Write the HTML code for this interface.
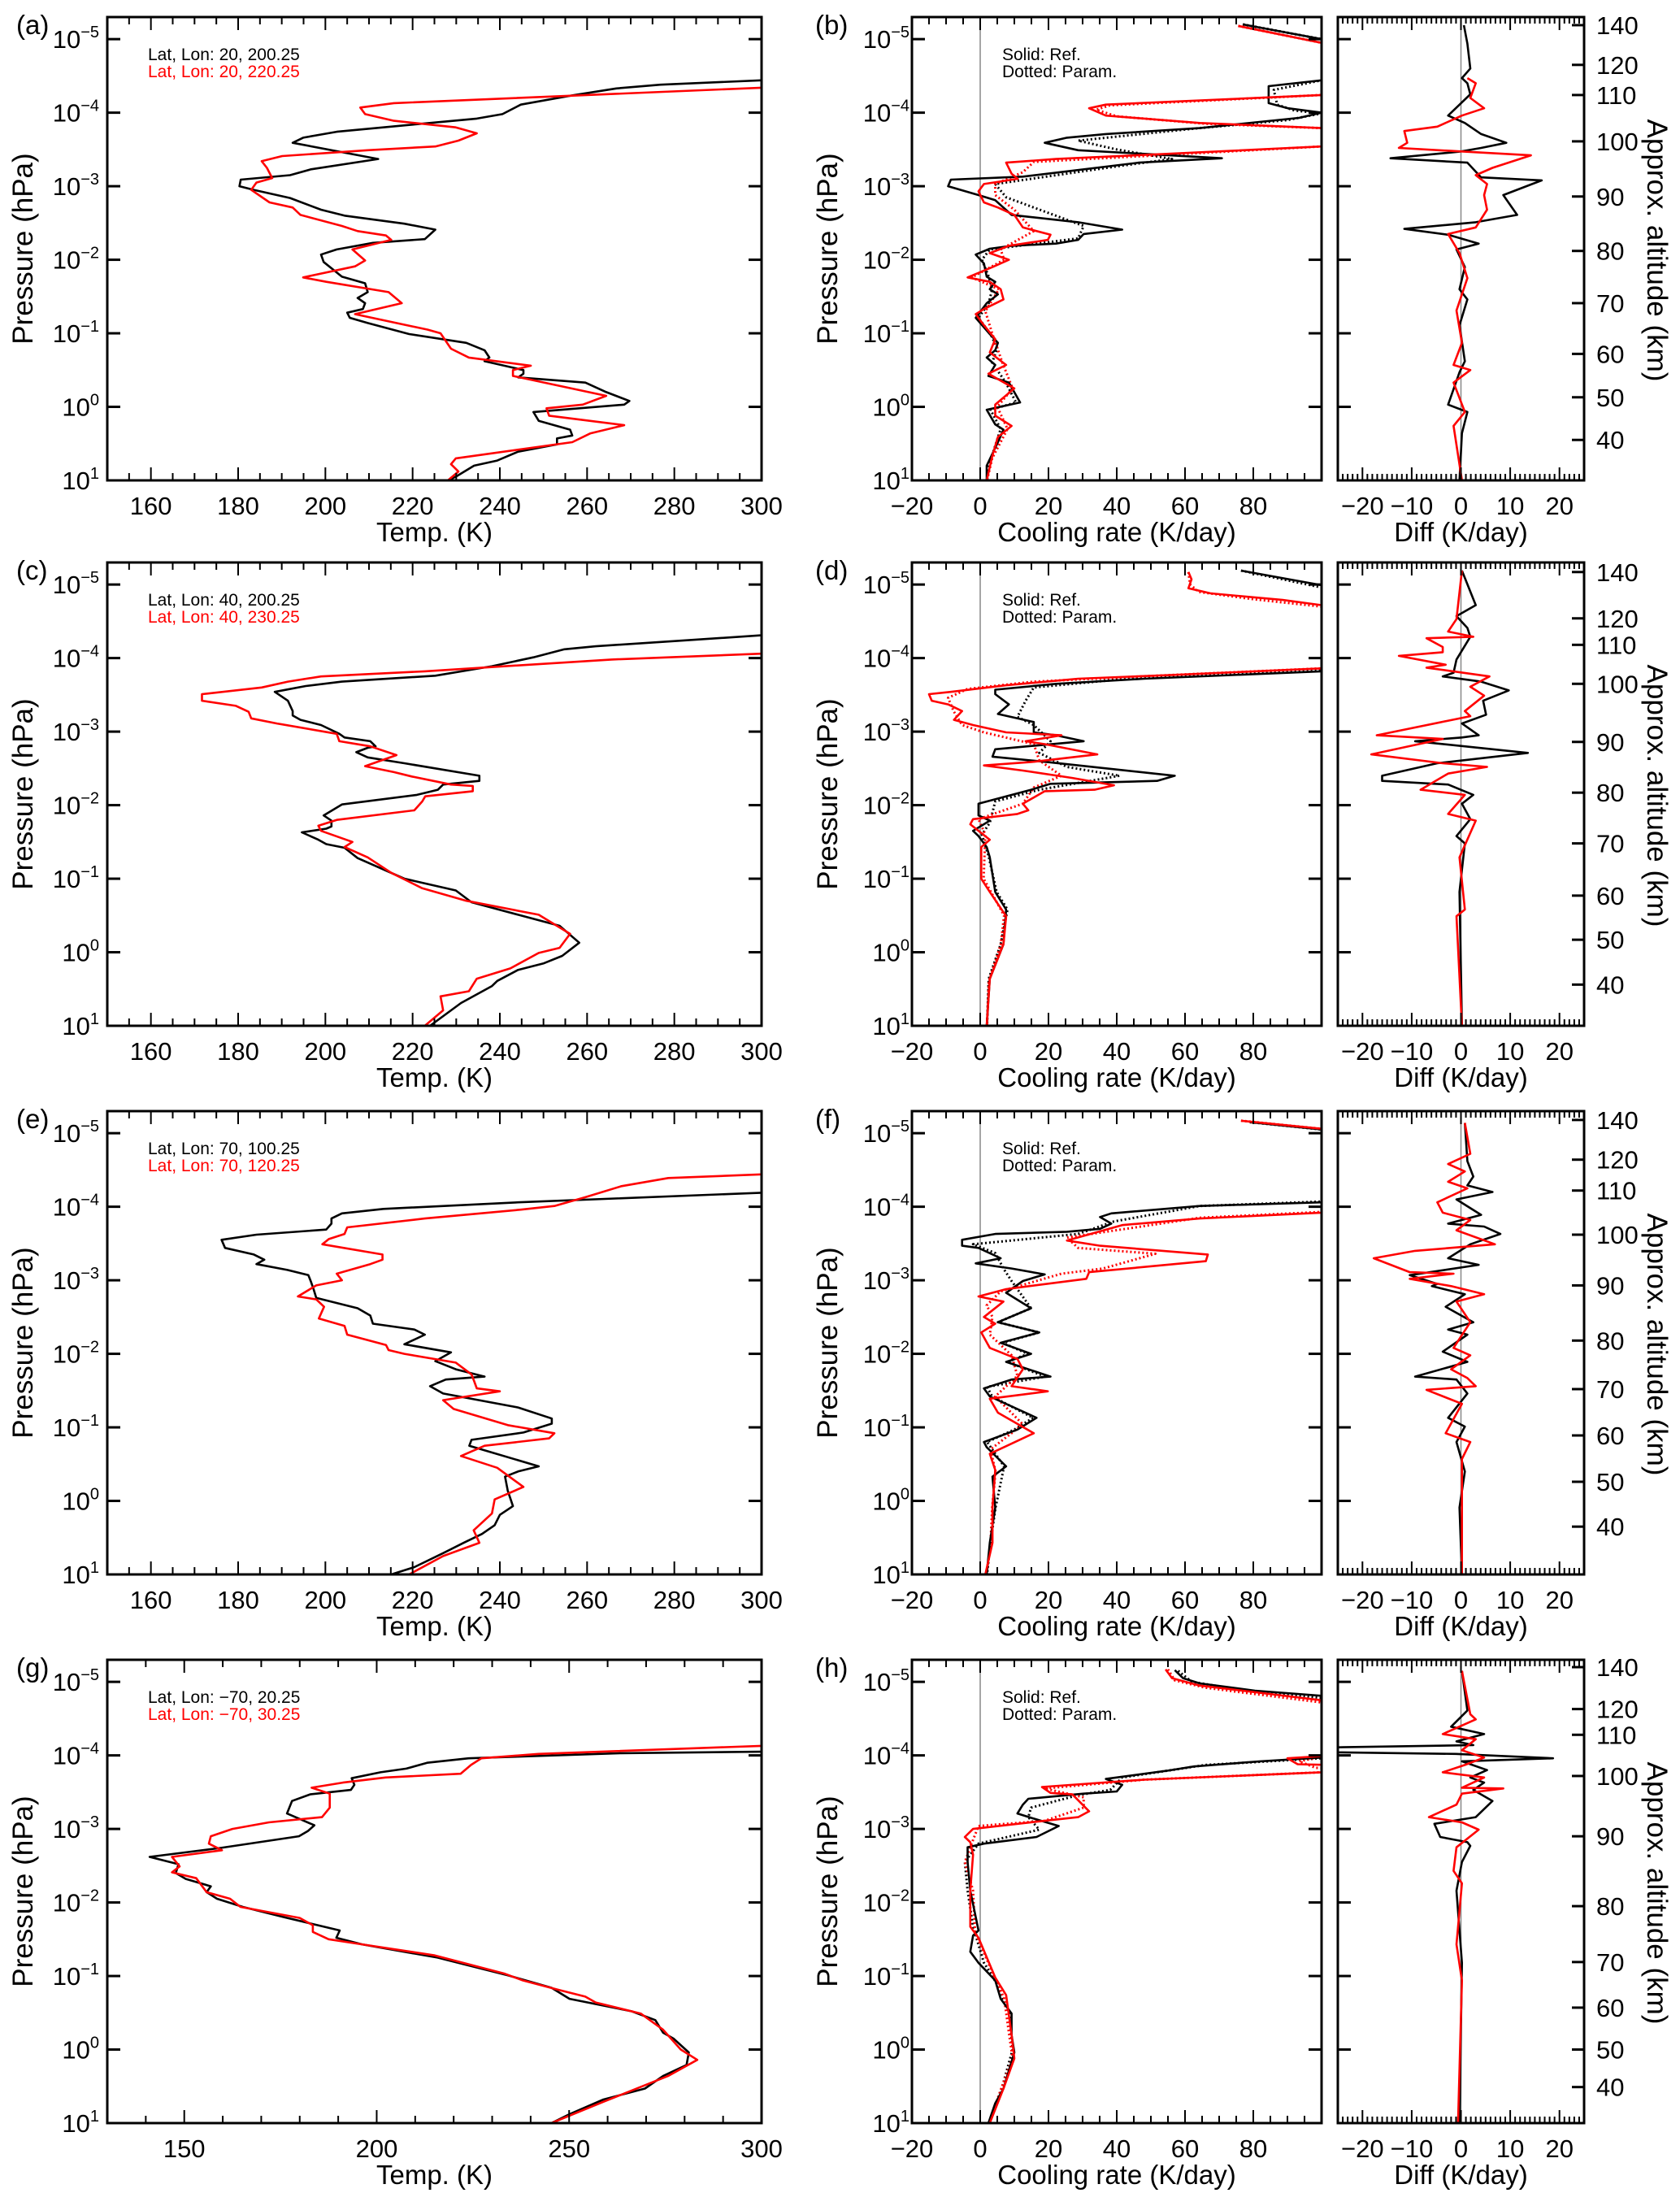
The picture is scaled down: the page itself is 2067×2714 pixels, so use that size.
<!DOCTYPE html>
<html><head><meta charset="utf-8"><title>Temperature and cooling rate profiles</title>
<style>
html,body{margin:0;padding:0;background:#fff;}
svg{display:block;font-family:"Liberation Sans","DejaVu Sans",sans-serif;}
</style></head>
<body>
<svg id="fig" width="2067" height="2714" viewBox="0 0 2067 2714" xmlns="http://www.w3.org/2000/svg">
<rect x="0" y="0" width="2067" height="2714" fill="#fff"/>
</svg>
<script>
// ---------- tick / label arrays ----------
const pTicks = [-5,-4,-3,-2,-1,0,1];
const tempTicks = [160,180,200,220,240,260,280,300];
const tempTicksG = [150,200,250,300];
const coolTicks = [-20,0,20,40,60,80];
const diffTicks = [-20,-10,0,10,20];
const altLabels = [140,120,110,100,90,80,70,60,50,40];
const altLogpA = [-5.19,-4.65,-4.24,-3.61,-2.86,-2.12,-1.41,-0.72,-0.13,0.45];
const altLogpC = [-5.17,-4.54,-4.18,-3.65,-2.86,-2.17,-1.48,-0.77,-0.17,0.44];
const altLogpE = [-5.18,-4.64,-4.22,-3.62,-2.93,-2.18,-1.52,-0.89,-0.26,0.35];
const altLogpG = [-5.20,-4.63,-4.28,-3.72,-2.90,-1.95,-1.19,-0.57,0.0,0.51];

// ---------- data: [log10 pressure, value] ----------
const tempA_black = [[-4.44,300],[-4.38,276.8],[-4.33,266.7],[-4.23,256.1],[-4.11,244.8],[-3.98,240.6],[-3.92,234.7],[-3.84,220.4],[-3.74,202.6],[-3.66,194.9],[-3.59,192.5],[-3.37,212.1],[-3.23,196.7],[-3.15,191.9],[-3.09,180.6],[-3.0,180.3],[-2.95,183.6],[-2.84,191.9],[-2.68,199],[-2.6,204.4],[-2.49,218.1],[-2.41,225.2],[-2.28,222.8],[-2.23,210.9],[-2.14,202.6],[-2.07,199],[-1.97,199.6],[-1.77,203.8],[-1.68,209.1],[-1.56,209.7],[-1.48,207.4],[-1.41,209.1],[-1.33,208.6],[-1.28,205],[-1.21,205.6],[-1.14,209.7],[-0.99,219.2],[-0.87,232.3],[-0.77,236.5],[-0.67,237.6],[-0.62,236.5],[-0.5,245.4],[-0.45,245.4],[-0.4,244.2],[-0.33,259.6],[-0.2,264.4],[-0.08,269.7],[-0.03,268.5],[0.07,247.7],[0.19,248.9],[0.31,256.1],[0.39,256.6],[0.43,253.1],[0.51,253.1],[0.61,244.2],[0.73,239.4],[0.8,234.1],[0.95,229.9],[1.0,228.1]];
const tempA_red = [[-4.34,300],[-4.23,256.1],[-4.13,215.7],[-4.07,208],[-3.98,209.1],[-3.89,215.7],[-3.8,229.9],[-3.72,234.7],[-3.62,230.5],[-3.54,225.2],[-3.49,209.7],[-3.41,190.1],[-3.34,185.4],[-3.25,186.6],[-3.11,187.8],[-3.05,184.2],[-2.95,183],[-2.78,187.2],[-2.71,192.5],[-2.61,194.3],[-2.46,203.8],[-2.39,207.4],[-2.33,213.9],[-2.27,215.1],[-2.14,206.2],[-1.99,209.1],[-1.91,206.8],[-1.76,194.9],[-1.7,200.2],[-1.56,214.5],[-1.41,217.5],[-1.26,206.8],[-1.05,223.4],[-1.0,226.4],[-0.79,228.8],[-0.67,232.9],[-0.56,247.1],[-0.5,243],[-0.42,243],[-0.15,264.4],[-0.03,259],[0.02,250.7],[0.12,251.3],[0.25,268.5],[0.36,260.8],[0.48,256.6],[0.7,229.9],[0.78,228.8],[0.88,230.5],[1.0,228.1]];
const tempC_black = [[-4.31,300],[-4.24,282.2],[-4.16,262],[-4.12,254.8],[-4.01,247.7],[-3.89,238.2],[-3.76,225.2],[-3.68,203.8],[-3.62,195.5],[-3.54,188.4],[-3.42,191.4],[-3.28,192.5],[-3.22,192.5],[-3.16,194.3],[-3.09,199],[-2.97,203.2],[-2.92,204.4],[-2.87,210.3],[-2.8,211.5],[-2.78,209.7],[-2.72,207.1],[-2.65,209.7],[-2.57,218.1],[-2.4,235.3],[-2.33,235.3],[-2.28,227],[-2.21,225.8],[-2.14,221],[-2.01,203.8],[-1.86,199.6],[-1.79,201.4],[-1.71,201.4],[-1.68,200.2],[-1.63,194.6],[-1.53,198.4],[-1.47,200.2],[-1.42,204.4],[-1.28,207.4],[-1.0,218.1],[-0.84,229.9],[-0.68,233.5],[-0.51,244.2],[-0.36,253.7],[-0.13,258.2],[0.05,254.3],[0.15,250.1],[0.24,244.2],[0.39,239.4],[0.46,238.2],[0.69,231.1],[1.0,224]];
const tempC_red = [[-4.06,300],[-3.98,265.6],[-3.87,235.9],[-3.82,222.8],[-3.75,199],[-3.68,191.4],[-3.6,185.4],[-3.51,171.7],[-3.42,171.7],[-3.35,179.5],[-3.27,182.4],[-3.18,183],[-3.11,188.9],[-2.97,202.6],[-2.87,203.2],[-2.8,210.3],[-2.68,216.3],[-2.53,209.1],[-2.45,215.7],[-2.39,219.8],[-2.28,228.8],[-2.26,233.8],[-2.19,233.8],[-2.12,222.9],[-2.05,222.2],[-1.93,220.4],[-1.8,202.6],[-1.72,198.4],[-1.65,199],[-1.5,206.2],[-1.43,204.4],[-1.29,209.7],[-1.08,215.1],[-0.87,222.2],[-0.7,232.3],[-0.51,248.9],[-0.25,256.1],[-0.06,253.7],[0.01,248.9],[0.22,242.4],[0.36,234.7],[0.53,232.9],[0.6,226.4],[0.79,227],[1.0,222.8]];
const tempE_black = [[-4.19,300],[-4.06,244.2],[-3.97,213.3],[-3.91,203.8],[-3.84,201.4],[-3.77,201.4],[-3.69,200.2],[-3.62,184.2],[-3.55,176.2],[-3.44,177],[-3.35,183.6],[-3.28,186],[-3.22,184.2],[-3.14,191.3],[-3.07,196.1],[-2.98,196.7],[-2.88,197.3],[-2.76,197.9],[-2.62,207.4],[-2.52,210.3],[-2.41,210.9],[-2.33,220.4],[-2.26,222.8],[-2.13,218.1],[-2.02,228.8],[-1.9,225.2],[-1.79,229.9],[-1.69,236.5],[-1.65,227.6],[-1.56,224],[-1.46,227],[-1.27,244.2],[-1.12,251.9],[-1.05,251.9],[-0.93,245.4],[-0.83,233.5],[-0.75,233],[-0.47,248.9],[-0.4,244.2],[-0.33,241.2],[-0.14,241.8],[0.07,243],[0.19,240],[0.33,238.8],[0.45,235.9],[0.57,231.7],[0.71,227],[0.9,220.4],[1.0,215.1]];
const tempE_red = [[-4.44,300],[-4.39,278.6],[-4.28,267.9],[-4.13,259.6],[-4.01,252.5],[-3.96,244.8],[-3.84,222.8],[-3.72,205],[-3.63,204.4],[-3.56,200.8],[-3.49,199.3],[-3.35,213.1],[-3.28,213.1],[-3.22,210.3],[-3.09,202.6],[-3.0,203.8],[-2.93,197.9],[-2.78,193.7],[-2.74,197.9],[-2.64,199.7],[-2.48,198.5],[-2.38,204.4],[-2.26,205],[-2.12,213.9],[-2.05,214.5],[-2.0,218.1],[-1.88,229.9],[-1.72,233.5],[-1.63,234.1],[-1.53,234.7],[-1.49,240],[-1.37,227],[-1.25,229.4],[-1.03,241.8],[-0.92,252.5],[-0.85,251.3],[-0.75,236.5],[-0.61,231.1],[-0.45,239.4],[-0.19,245.4],[-0.02,238.8],[0.17,238.2],[0.4,234],[0.57,235.3],[0.75,227],[1.0,219.2]];
const tempG_black = [[-4.05,300],[-4.03,263.6],[-3.96,223.9],[-3.9,213.1],[-3.82,207.7],[-3.77,201],[-3.69,193.5],[-3.6,194.2],[-3.53,193.3],[-3.47,182.7],[-3.38,178],[-3.21,176.7],[-3.05,183.8],[-2.97,182.1],[-2.9,179.8],[-2.74,159.2],[-2.62,141],[-2.52,148.5],[-2.4,147.8],[-2.32,150.4],[-2.22,156.9],[-2.14,155.8],[-2.05,158.5],[-1.94,165.2],[-1.8,176],[-1.62,190.4],[-1.52,189.5],[-1.43,196.2],[-1.25,215.8],[-1.01,234],[-0.84,245.4],[-0.69,250.1],[-0.52,266.3],[-0.4,272.4],[-0.23,274.4],[-0.15,277.1],[0.04,281.1],[0.21,280.5],[0.36,274.4],[0.53,269.7],[0.68,258.9],[0.88,250.1],[1.0,245.4]];
const tempG_red = [[-4.13,300],[-4.02,242],[-3.96,227.2],[-3.87,224.5],[-3.75,221.8],[-3.7,202.3],[-3.63,191.2],[-3.56,183.1],[-3.48,187.8],[-3.29,187.8],[-3.16,185.8],[-3.09,172],[-3.0,162.5],[-2.9,156.9],[-2.8,156.4],[-2.71,159.8],[-2.62,146.8],[-2.49,148.8],[-2.41,146.8],[-2.33,153.1],[-2.14,155.8],[-2.05,161.9],[-1.94,164.6],[-1.79,180],[-1.69,183.4],[-1.6,183.4],[-1.5,187.5],[-1.43,196.2],[-1.28,215.1],[-1.03,233.3],[-0.94,238],[-0.81,247.4],[-0.72,254.2],[-0.64,256.9],[-0.49,268.6],[-0.27,274.4],[0.0,279],[0.14,283.3],[0.36,275.7],[0.71,258.9],[1.0,245.4]];

const coolB_blackRef = [[-5.2,76.9],[-5.0,100],[-4.8,150],[-4.5,150],[-4.44,100],[-4.36,84.5],[-4.13,84.5],[-4.06,90.2],[-4.0,100],[-3.93,93.4],[-3.79,64.3],[-3.71,36.8],[-3.66,25.4],[-3.59,18.9],[-3.49,28.7],[-3.44,48.1],[-3.38,70.8],[-3.32,46.5],[-3.22,28.7],[-3.13,12.5],[-3.09,-8.6],[-3.0,-9.4],[-2.88,-0.5],[-2.81,4.4],[-2.61,9.2],[-2.51,28.7],[-2.41,41.6],[-2.35,30.3],[-2.27,28.7],[-2.22,22.2],[-2.19,9.2],[-2.15,2.8],[-2.07,-1.3],[-1.95,1.1],[-1.77,1.9],[-1.7,4.4],[-1.6,2.8],[-1.53,5.2],[-1.41,1.9],[-1.21,-1.3],[-0.99,2.8],[-0.87,5.2],[-0.77,4.4],[-0.67,1.9],[-0.57,4.4],[-0.42,2.4],[-0.33,8.4],[-0.06,11.7],[0.04,1.9],[0.24,4.4],[0.31,6.8],[0.48,5.2],[0.8,1.9],[1.0,1.9]];
const coolB_blackPar = [[-5.2,77],[-5.0,100],[-4.8,150],[-4.5,150],[-4.44,100],[-4.31,86],[-4.11,87],[-4.03,92],[-3.99,100],[-3.9,90],[-3.78,62],[-3.62,28.7],[-3.5,40],[-3.37,56.2],[-3.27,40],[-3.03,4.4],[-2.85,7.6],[-2.71,15.7],[-2.46,30.3],[-2.29,28.7],[-2.14,2.8],[-2.0,0.5],[-1.77,2.5],[-1.6,3.5],[-1.41,2.5],[-1.21,-0.5],[-0.99,3],[-0.8,5],[-0.6,3.5],[-0.33,7.5],[-0.06,10.5],[0.04,3],[0.3,6],[0.8,2.5],[1.0,2]];
const coolB_redRef = [[-5.18,75.6],[-4.95,100],[-4.6,150],[-4.24,100],[-4.11,36.8],[-4.06,31.9],[-3.96,36.8],[-3.86,64.3],[-3.79,100],[-3.65,160],[-3.54,100],[-3.44,54.6],[-3.37,22.2],[-3.32,7.6],[-3.17,9.2],[-3.1,11],[-3.03,1.1],[-2.93,-0.5],[-2.78,1.1],[-2.71,5.2],[-2.61,10],[-2.44,12.5],[-2.34,20.6],[-2.27,19.8],[-2.19,8.4],[-2.09,2.8],[-2.0,8.4],[-1.9,3.6],[-1.76,-3.7],[-1.7,2.8],[-1.6,6],[-1.46,6.8],[-1.33,1.1],[-1.26,-1.3],[-1.11,1.1],[-0.92,4.4],[-0.74,2.8],[-0.57,7.6],[-0.45,2.4],[-0.25,10],[-0.03,4.4],[0.12,4.4],[0.26,9.2],[0.41,5.2],[0.66,3.6],[1.0,1.9]];
const coolB_redPar = [[-5.18,75.6],[-4.95,100],[-4.6,150],[-4.24,100],[-4.1,38],[-4.04,34],[-3.95,40],[-3.85,66],[-3.79,100],[-3.65,160],[-3.54,100],[-3.43,56],[-3.33,15.7],[-3.19,12.5],[-3.03,4.4],[-2.88,4.4],[-2.68,10],[-2.39,15.7],[-2.14,6],[-2.0,7],[-1.76,-2.5],[-1.6,5.5],[-1.3,1.5],[-1.0,3.5],[-0.6,6.5],[-0.25,9.5],[0.0,5],[0.3,8],[0.7,3.5],[1.0,2]];
const coolD_blackRef = [[-5.19,76.4],[-4.99,100],[-4.5,150],[-3.82,100],[-3.72,48.1],[-3.65,22.2],[-3.57,4.4],[-3.51,4.4],[-3.37,8.4],[-3.24,5.2],[-3.13,15.7],[-2.99,15.7],[-2.95,22.2],[-2.87,30.3],[-2.76,4.4],[-2.66,3.6],[-2.59,18.9],[-2.4,57],[-2.33,51.8],[-2.29,20.6],[-2.21,14.9],[-2.02,-0.5],[-1.86,-0.5],[-1.79,2.8],[-1.65,-2.1],[-1.58,-0.5],[-1.43,1.9],[-1.29,2.8],[-0.82,4.4],[-0.58,7.6],[-0.11,6.8],[0.36,2.8],[1.0,1.9]];
const coolD_blackPar = [[-5.19,76.4],[-4.96,100],[-4.5,150],[-3.84,100],[-3.74,48],[-3.6,15.7],[-3.42,13.3],[-3.2,10.9],[-3.09,15.7],[-2.87,20.6],[-2.71,17.3],[-2.52,25.4],[-2.4,40.8],[-2.21,17.3],[-2.05,4.4],[-1.76,2.8],[-1.6,0.5],[-1.3,2.5],[-0.82,4.8],[-0.58,8],[-0.11,6],[0.36,2.5],[1.0,2]];
const coolD_redRef = [[-5.17,61],[-5.07,61.9],[-4.95,61],[-4.88,67.5],[-4.79,88.6],[-4.72,100],[-4.3,150],[-3.86,100],[-3.77,56.2],[-3.72,28.7],[-3.63,7.6],[-3.54,-8.6],[-3.51,-15],[-3.42,-14.2],[-3.37,-9.4],[-3.28,-5.3],[-3.16,-7.7],[-3.09,-2.1],[-2.99,7.6],[-2.95,23.8],[-2.87,13.3],[-2.83,18.9],[-2.69,34.3],[-2.59,15.7],[-2.54,1.1],[-2.47,12.5],[-2.37,27],[-2.27,39.2],[-2.21,33.5],[-2.19,18.9],[-2.02,12.5],[-1.93,14.1],[-1.88,10.9],[-1.81,-2.1],[-1.74,-2.9],[-1.53,2.8],[-1.43,0.3],[-1.0,0.3],[-0.82,2.8],[-0.49,7.6],[-0.11,6.8],[0.36,2.8],[1.0,1.9]];
const coolD_redPar = [[-5.17,61],[-5.0,61.5],[-4.9,64],[-4.8,80],[-4.7,100],[-4.3,150],[-3.86,100],[-3.77,56],[-3.68,15.7],[-3.58,-3.7],[-3.46,-9.4],[-3.28,-7.8],[-3.09,-5.3],[-2.99,1.1],[-2.83,15.7],[-2.61,17.3],[-2.4,23.8],[-2.24,15.7],[-2.02,12.5],[-1.81,-0.5],[-1.6,1.5],[-1.0,1],[-0.5,7],[-0.1,6],[0.4,2.5],[1.0,2]];
const coolF_blackRef = [[-5.15,79],[-5.05,100],[-4.5,150],[-4.06,100],[-4.01,64.3],[-3.91,38.4],[-3.86,35.1],[-3.77,38.4],[-3.7,35.1],[-3.66,25.4],[-3.63,4.4],[-3.55,-5.3],[-3.47,-5.3],[-3.44,-0.5],[-3.3,6],[-3.23,-1.3],[-3.16,9.2],[-3.08,18.9],[-2.99,12.5],[-2.83,7.6],[-2.62,14.9],[-2.43,5.2],[-2.29,17.3],[-2.15,6],[-2.0,14.9],[-1.89,7.6],[-1.69,20.6],[-1.65,9.2],[-1.53,1.1],[-1.42,2.8],[-1.13,16.5],[-0.97,10.9],[-0.8,1.1],[-0.73,1.9],[-0.47,7.6],[-0.33,3.6],[0.09,4.4],[0.57,2.8],[1.0,1.9]];
const coolF_blackPar = [[-5.15,79],[-5.05,100],[-4.5,150],[-4.07,100],[-4.01,64.3],[-3.8,39.2],[-3.63,28.7],[-3.49,-2.1],[-3.37,4.4],[-3.16,6.8],[-2.99,9.2],[-2.62,14.9],[-2.43,5.2],[-2.29,17.3],[-2.15,6.5],[-2.0,14],[-1.89,8],[-1.69,19],[-1.55,2],[-1.42,3.5],[-1.13,15.5],[-0.97,10],[-0.8,2],[-0.47,7],[0.09,4.5],[0.57,3],[1.0,2]];
const coolF_redRef = [[-5.17,76.4],[-5.06,100],[-4.5,150],[-3.92,100],[-3.84,64.3],[-3.75,41.6],[-3.54,25.4],[-3.47,35.1],[-3.35,66.7],[-3.26,66.1],[-3.11,31.9],[-3.02,31.1],[-2.88,7.6],[-2.78,-0.5],[-2.71,6.8],[-2.5,1.1],[-2.41,4.4],[-2.29,0.3],[-2.08,2.8],[-1.93,10.9],[-1.79,12.5],[-1.56,9.2],[-1.49,19.8],[-1.39,2.8],[-1.2,5.2],[-0.92,15.7],[-0.64,2.8],[-0.42,4.4],[0.09,3.6],[0.57,3.6],[1.0,1.5]];
const coolF_redPar = [[-5.17,76.4],[-5.06,100],[-4.5,150],[-3.93,100],[-3.85,64.3],[-3.58,25.4],[-3.44,28.7],[-3.36,51.3],[-3.16,36],[-3.09,23.8],[-2.85,6],[-2.66,1.9],[-2.5,3.6],[-2.26,2.8],[-1.98,9.2],[-1.7,10.9],[-1.42,4.4],[-1.04,12.5],[-0.7,3],[-0.4,4.5],[0.1,3.5],[0.6,3],[1.0,1.8]];
const coolH_blackRef = [[-5.16,57],[-5.05,59.4],[-4.98,64.3],[-4.88,80.5],[-4.81,100],[-4.4,150],[-3.97,100],[-3.92,82.1],[-3.85,62.7],[-3.79,54.6],[-3.68,36.8],[-3.6,41.6],[-3.51,40],[-3.48,30.3],[-3.41,14.1],[-3.33,12.5],[-3.21,10.9],[-3.14,15.7],[-3.04,23],[-2.89,16.5],[-2.8,1.1],[-2.75,-3.7],[-2.55,-3.7],[-2.16,-2.9],[-1.62,-0.5],[-1.55,-2.1],[-1.33,-2.9],[-1.18,-0.5],[-0.94,4.4],[-0.69,6],[-0.49,9.2],[-0.2,9.2],[0.04,10],[0.53,6.8],[0.73,4.4],[1.0,2.4]];
const coolH_blackPar = [[-5.15,58],[-5.0,62],[-4.9,75],[-4.78,100],[-4.4,150],[-3.96,100],[-3.87,66],[-3.7,41.6],[-3.53,38.1],[-3.46,28.7],[-3.29,14.9],[-3.16,14.1],[-2.99,17.3],[-2.8,-0.5],[-2.55,-4.5],[-2.16,-3.7],[-1.67,-2.1],[-1.18,1.1],[-0.9,4.8],[-0.5,8.5],[0.0,9.5],[0.5,6.5],[1.0,2.6]];
const coolH_redRef = [[-5.17,54.3],[-5.05,56.2],[-4.95,64.3],[-4.75,100],[-4.4,150],[-3.99,100],[-3.96,90],[-3.88,93],[-3.82,150],[-3.77,100],[-3.67,48.1],[-3.57,18.1],[-3.49,20.6],[-3.47,27],[-3.24,31.9],[-3.16,28.7],[-3.11,18.9],[-3.0,-2.1],[-2.89,-4.5],[-2.82,-2.9],[-2.65,-2.1],[-2.16,-2.9],[-1.67,-2.9],[-1.52,-0.5],[-0.98,4.4],[-0.74,7.6],[-0.2,9.2],[0.12,10],[0.53,6.8],[1.0,2.8]];
const coolH_redPar = [[-5.17,55],[-5.02,57],[-4.92,66],[-4.72,100],[-4.4,150],[-3.98,100],[-3.92,93.4],[-3.83,98.3],[-3.8,150],[-3.77,100],[-3.67,48],[-3.55,18.9],[-3.43,30.3],[-3.29,30.3],[-3.11,18.9],[-3.04,-0.5],[-2.85,-2.1],[-2.55,-4.5],[-2.16,-2.1],[-1.6,-1.5],[-1.0,4],[-0.7,7],[-0.2,8.5],[0.12,9.5],[0.55,6],[1.0,2.6]];

const diffB_black = [[-5.19,0.6],[-4.94,1.3],[-4.6,1.9],[-4.47,0.2],[-4.4,1.3],[-4.25,1.9],[-3.96,-2.6],[-3.86,0.8],[-3.71,4.1],[-3.59,9.2],[-3.52,4.1],[-3.47,-0.3],[-3.38,-14.3],[-3.32,1.3],[-3.12,4.1],[-3.08,16.4],[-2.88,8.6],[-2.61,11.4],[-2.51,3],[-2.42,-11.5],[-2.34,-2.6],[-2.22,3.6],[-2.14,-0.9],[-1.9,0.8],[-1.6,-0.3],[-1.46,1.3],[-1.11,-0.3],[-0.62,0.8],[-0.47,-0.3],[-0.03,-2.6],[0.07,1.3],[0.36,0.2],[1.0,-0.3]];
const diffB_red = [[-4.47,1.3],[-4.4,3],[-4.2,1.9],[-4.06,4.7],[-3.96,0.2],[-3.81,-4.8],[-3.75,-11.5],[-3.59,-10.9],[-3.52,-12.6],[-3.47,0.8],[-3.42,14.2],[-3.25,6.4],[-3.15,3],[-3.03,5.3],[-2.88,4.7],[-2.68,5.3],[-2.44,3],[-2.35,-2.6],[-2.09,-0.3],[-1.75,1.3],[-1.31,-0.9],[-0.87,0.2],[-0.57,-1.5],[-0.5,1.9],[-0.33,-1.5],[0.07,0.8],[0.26,-1.5],[1.0,0.2]];
const diffD_black = [[-5.19,0.2],[-4.72,3],[-4.57,-0.9],[-4.41,1.3],[-4.29,1.9],[-3.98,-0.9],[-3.8,-1.5],[-3.75,-3.7],[-3.68,4.1],[-3.56,9.7],[-3.42,4.5],[-3.23,5.1],[-3.11,0.2],[-2.95,3.6],[-2.92,0.2],[-2.87,-9.3],[-2.71,13.6],[-2.57,-4.8],[-2.4,-16],[-2.33,-16],[-2.28,-2.6],[-2.14,2.5],[-2.02,0.2],[-1.81,1.9],[-1.58,-0.9],[-1.48,0.8],[-0.82,-0.3],[1.0,0.2]];
const diffD_red = [[-5.19,0.2],[-4.53,-0.9],[-4.36,-2.6],[-4.29,2.5],[-4.27,-7],[-4.15,-3.7],[-4.08,-3.7],[-4.03,-12.6],[-3.91,-3.1],[-3.87,-7],[-3.75,5.8],[-3.61,1.9],[-3.49,4.7],[-3.28,0.8],[-3.21,1.9],[-2.95,-17.1],[-2.9,-3.7],[-2.69,-18.2],[-2.57,-3.7],[-2.52,5.3],[-2.43,-2.6],[-2.21,-8.2],[-2.14,0.8],[-1.88,-2.6],[-1.79,3],[-1.29,-0.3],[-0.58,0.8],[-0.49,-0.9],[1.0,0.2]];
const diffF_black = [[-5.14,0.8],[-4.62,1.3],[-4.41,2.5],[-4.29,1.3],[-4.2,6.4],[-4.1,-0.9],[-3.89,4.1],[-3.77,-2.6],[-3.73,4.7],[-3.63,8],[-3.49,1.9],[-3.3,-2.6],[-3.21,3.6],[-3.07,-10.4],[-2.95,-4.8],[-2.92,-5.9],[-2.81,0.8],[-2.64,-3.1],[-2.43,2.5],[-2.33,-2.6],[-2.26,1.3],[-2.03,-3.7],[-1.89,1.3],[-1.69,-9.3],[-1.65,-0.9],[-1.46,1.3],[-1.13,-2.6],[-1.01,0.8],[-0.8,-0.9],[-0.4,0.8],[0.09,-0.3],[1.0,0.2]];
const diffF_red = [[-5.14,0.8],[-4.72,1.9],[-4.58,-2.6],[-4.48,0.8],[-4.34,-2.6],[-4.25,1.3],[-4.06,-4.8],[-3.92,-3.7],[-3.82,1.9],[-3.68,-0.9],[-3.49,6.9],[-3.4,-9.3],[-3.3,-17.7],[-3.11,-10.4],[-3.09,-1.5],[-3.02,-10.4],[-2.92,-2],[-2.81,4.7],[-2.71,-0.9],[-2.43,1.9],[-2.08,-1.5],[-1.98,1.9],[-1.79,-2],[-1.67,1.3],[-1.56,3],[-1.51,-7],[-1.32,0.2],[-0.92,-3.1],[-0.8,1.9],[-0.57,0.2],[1.0,0.2]];
const diffH_black = [[-5.15,0.2],[-4.61,1.3],[-4.39,-2],[-4.29,4.7],[-4.19,-0.9],[-4.14,2.5],[-4.1,-35],[-4.05,-35],[-4.02,-1],[-3.96,18.7],[-3.92,0.2],[-3.8,5.3],[-3.7,1.9],[-3.63,4.7],[-3.53,2.5],[-3.38,6.4],[-3.16,3],[-3.07,-5.4],[-2.89,-4.2],[-2.82,1.3],[-2.77,1.9],[-2.55,0.2],[-2.16,-0.9],[-1.18,0.2],[1.0,-0.3]];
const diffH_red = [[-5.15,0.2],[-4.56,1.9],[-4.49,3],[-4.29,-3.7],[-4.22,3],[-4.07,0.2],[-3.97,4.7],[-3.87,0.8],[-3.77,-3.7],[-3.7,4.7],[-3.56,0.2],[-3.55,8.6],[-3.48,0.2],[-3.33,-0.9],[-3.16,-6.5],[-3.09,0.2],[-2.99,3.6],[-2.75,-0.9],[-2.43,-1.5],[-2.26,0.2],[-1.43,-0.9],[-0.94,0.2],[1.0,-0.6]];

// ---------- layout ----------
const NS = 'http://www.w3.org/2000/svg';
const svg = document.getElementById('fig');
const PH = 570, LPTOP = -5.3, LPBOT = 1.0;
const TX0 = 132, TX1 = 937, CX0 = 1122, CX1 = 1626, DX0 = 1646, DX1 = 1949;
const FS_TICK = 31, FS_TITLE = 33, FS_LEG = 21;

function mk(tag, attrs, parent) {
  const e = document.createElementNS(NS, tag);
  for (const k in attrs) e.setAttribute(k, attrs[k]);
  (parent || svg).appendChild(e);
  return e;
}
function txt(s, attrs, parent) {
  const e = mk('text', attrs, parent);
  e.textContent = s;
  return e;
}
function lin(a, b, c, d) { return function (v) { return c + (v - a) * (d - c) / (b - a); }; }

let clipId = 0;
function makePanel(group, x0, x1, top, xmin, xmax) {
  const sx = lin(xmin, xmax, x0, x1);
  const sy = lin(LPTOP, LPBOT, top, top + PH);
  clipId++;
  const cp = mk('clipPath', { id: 'clip' + clipId }, group);
  mk('rect', { x: x0, y: top, width: x1 - x0, height: PH }, cp);
  const plot = mk('g', { 'clip-path': 'url(#clip' + clipId + ')' }, group);
  
  
  return { sx, sy, plot, x0, x1, top };
}
function drawSeries(p, data, color, dashed, name) {
  const pts = data.map(d => p.sx(d[1]).toFixed(1) + ',' + p.sy(d[0]).toFixed(1)).join(' ');
  const attrs = { points: pts, fill: 'none', stroke: color, 'stroke-width': dashed ? 3 : 2.6, 'stroke-linejoin': 'round' };
  if (dashed) attrs['stroke-dasharray'] = '2,3';
  const l = mk('polyline', attrs, p.plot);
  
  
}
function frame(p, group) {
  const r = mk('rect', { x: p.x0, y: p.top, width: p.x1 - p.x0, height: PH, fill: 'none', stroke: '#000', 'stroke-width': 3 }, group);
  
  
}
function xTicks(p, group, minorStep, xmin, xmax, majors, labels, majLen, minLen) {
  const g = mk('g', { stroke: '#000', 'stroke-width': 2 }, group);
  
  
  const yb = p.top + PH, yt = p.top;
  for (let v = xmin; v <= xmax + 1e-6; v += minorStep) {
    const x = p.sx(v);
    const isMaj = majors.some(m => Math.abs(m - v) < 1e-6);
    const L = isMaj ? majLen : minLen;
    mk('line', { x1: x, y1: yb, x2: x, y2: yb - L }, g);
    mk('line', { x1: x, y1: yt, x2: x, y2: yt + L }, g);
  }
  const lg = mk('g', { 'font-size': FS_TICK, 'text-anchor': 'middle', fill: '#000' }, group);
  
  
  labels.forEach(v => {
    const t = txt(String(v).replace('-', '\u2212'), { x: p.sx(v), y: yb + 42 }, lg);
    
    
  });
}
function yTicks(p, group, left, right, labelX) {
  const g = mk('g', { stroke: '#000', 'stroke-width': 3 }, group);
  
  
  pTicks.forEach(lp => {
    const y = p.sy(lp);
    if (left) mk('line', { x1: p.x0, y1: y, x2: p.x0 + 16, y2: y }, g);
    if (right) mk('line', { x1: p.x1, y1: y, x2: p.x1 - 16, y2: y }, g);
  });
  if (labelX !== null) {
    const lg = mk('g', { 'font-size': FS_TICK, 'text-anchor': 'end', fill: '#000' }, group);
    
    
    pTicks.forEach(lp => {
      const t = mk('text', { x: labelX, y: p.sy(lp) + 11 }, lg);
      
      
      t.appendChild(document.createTextNode('10'));
      const s = document.createElementNS(NS, 'tspan');
      s.setAttribute('dy', '-13');
      s.setAttribute('font-size', '20');
      s.textContent = String(lp).replace('-', '\u2212');
      t.appendChild(s);
    });
  }
}
function yTitle(group, x, cy) {
  const t = txt('Pressure (hPa)', { x: x, y: cy, 'font-size': FS_TITLE + 2, 'text-anchor': 'middle', transform: 'rotate(-90 ' + x + ' ' + cy + ')' }, group);
  
  
}

const rows = [
  { top: 21, pl: '(a)', pr: '(b)', leg: ['Lat, Lon:  20, 200.25', 'Lat, Lon:  20, 220.25'], tmin: 150, ticks: tempTicks, tminor: 5,
    tb: tempA_black, tr: tempA_red, cbr: coolB_blackRef, cbp: coolB_blackPar, crr: coolB_redRef, crp: coolB_redPar, db: diffB_black, dr: diffB_red, alt: altLogpA },
  { top: 692, pl: '(c)', pr: '(d)', leg: ['Lat, Lon:  40, 200.25', 'Lat, Lon:  40, 230.25'], tmin: 150, ticks: tempTicks, tminor: 5,
    tb: tempC_black, tr: tempC_red, cbr: coolD_blackRef, cbp: coolD_blackPar, crr: coolD_redRef, crp: coolD_redPar, db: diffD_black, dr: diffD_red, alt: altLogpC },
  { top: 1367, pl: '(e)', pr: '(f)', leg: ['Lat, Lon:  70, 100.25', 'Lat, Lon:  70, 120.25'], tmin: 150, ticks: tempTicks, tminor: 5,
    tb: tempE_black, tr: tempE_red, cbr: coolF_blackRef, cbp: coolF_blackPar, crr: coolF_redRef, crp: coolF_redPar, db: diffF_black, dr: diffF_red, alt: altLogpE },
  { top: 2042, pl: '(g)', pr: '(h)', leg: ['Lat, Lon: \u221270,  20.25', 'Lat, Lon: \u221270,  30.25'], tmin: 130, ticks: tempTicksG, tminor: 10,
    tb: tempG_black, tr: tempG_red, cbr: coolH_blackRef, cbp: coolH_blackPar, crr: coolH_redRef, crp: coolH_redPar, db: diffH_black, dr: diffH_red, alt: altLogpG }
];

rows.forEach((r, i) => {
  const row = mk('g', {});
  
  

  // ----- temperature panel -----
  const tg = mk('g', {}, row);
  
  
  const tp = makePanel(tg, TX0, TX1, r.top, r.tmin, 300);
  drawSeries(tp, r.tb, '#000', false, 'temperature-black-line');
  drawSeries(tp, r.tr, '#f00', false, 'temperature-red-line');
  frame(tp, tg);
  xTicks(tp, tg, r.tminor, r.tmin, 300, r.ticks, r.ticks, 16, 9);
  yTicks(tp, tg, true, true, 122);
  yTitle(tg, 40, r.top + PH / 2);
  const tt = txt('Temp. (K)', { x: (TX0 + TX1) / 2, y: r.top + PH + 75, 'font-size': FS_TITLE, 'text-anchor': 'middle' }, tg);
  
  
  const pl = txt(r.pl, { x: 20, y: r.top + 21, 'font-size': 33 }, tg);
  
  
  const l1 = txt(r.leg[0], { x: 182, y: r.top + 53, 'font-size': FS_LEG, fill: '#000' }, tg);
  
  
  const l2 = txt(r.leg[1], { x: 182, y: r.top + 74, 'font-size': FS_LEG, fill: '#f00' }, tg);
  
  

  // ----- cooling rate panel -----
  const cg = mk('g', {}, row);
  
  
  const cp = makePanel(cg, CX0, CX1, r.top, -20, 100);
  const z = mk('line', { x1: cp.sx(0), y1: r.top, x2: cp.sx(0), y2: r.top + PH, stroke: '#888', 'stroke-width': 1.5 }, cp.plot);
  
  
  drawSeries(cp, r.cbp, '#000', true, 'cooling-black-param-dotted');
  drawSeries(cp, r.crp, '#f00', true, 'cooling-red-param-dotted');
  drawSeries(cp, r.cbr, '#000', false, 'cooling-black-ref-solid');
  drawSeries(cp, r.crr, '#f00', false, 'cooling-red-ref-solid');
  frame(cp, cg);
  xTicks(cp, cg, 5, -20, 100, [-20, 0, 20, 40, 60, 80, 100], coolTicks, 16, 9);
  yTicks(cp, cg, true, true, 1119);
  yTitle(cg, 1030, r.top + PH / 2);
  const ct = txt('Cooling rate (K/day)', { x: (CX0 + CX1) / 2, y: r.top + PH + 75, 'font-size': FS_TITLE, 'text-anchor': 'middle' }, cg);
  
  
  const pr = txt(r.pr, { x: 1003, y: r.top + 21, 'font-size': 33 }, cg);
  
  
  const s1 = txt('Solid: Ref.', { x: 1233, y: r.top + 53, 'font-size': FS_LEG }, cg);
  
  
  const s2 = txt('Dotted: Param.', { x: 1233, y: r.top + 74, 'font-size': FS_LEG }, cg);
  
  

  // ----- difference panel -----
  const dg = mk('g', {}, row);
  
  
  const dp = makePanel(dg, DX0, DX1, r.top, -25, 25);
  const dz = mk('line', { x1: dp.sx(0), y1: r.top, x2: dp.sx(0), y2: r.top + PH, stroke: '#888', 'stroke-width': 1.5 }, dp.plot);
  
  
  drawSeries(dp, r.db, '#000', false, 'diff-black-line');
  drawSeries(dp, r.dr, '#f00', false, 'diff-red-line');
  frame(dp, dg);
  xTicks(dp, dg, 1, -25, 25, diffTicks, diffTicks, 16, 8);
  yTicks(dp, dg, true, false, null);
  const dt = txt('Diff (K/day)', { x: (DX0 + DX1) / 2, y: r.top + PH + 75, 'font-size': FS_TITLE, 'text-anchor': 'middle' }, dg);
  
  
  // altitude axis
  const ag = mk('g', { 'font-size': FS_TICK, fill: '#000' }, dg);
  
  
  altLabels.forEach((a, k) => {
    const y = dp.sy(r.alt[k]);
    mk('line', { x1: DX1, y1: y, x2: DX1 - 15, y2: y, stroke: '#000', 'stroke-width': 3 }, ag);
    const t = txt(String(a), { x: 1964, y: y + 11 }, ag);
    
    
  });
  const cy = r.top + 287;
  const at = txt('Approx. altitude (km)', { x: 2036, y: cy, 'font-size': FS_TITLE + 2, 'text-anchor': 'middle', transform: 'rotate(90 2036 ' + cy + ')', 'dominant-baseline': 'middle' }, dg);
  
  
});
</script>
</body></html>
